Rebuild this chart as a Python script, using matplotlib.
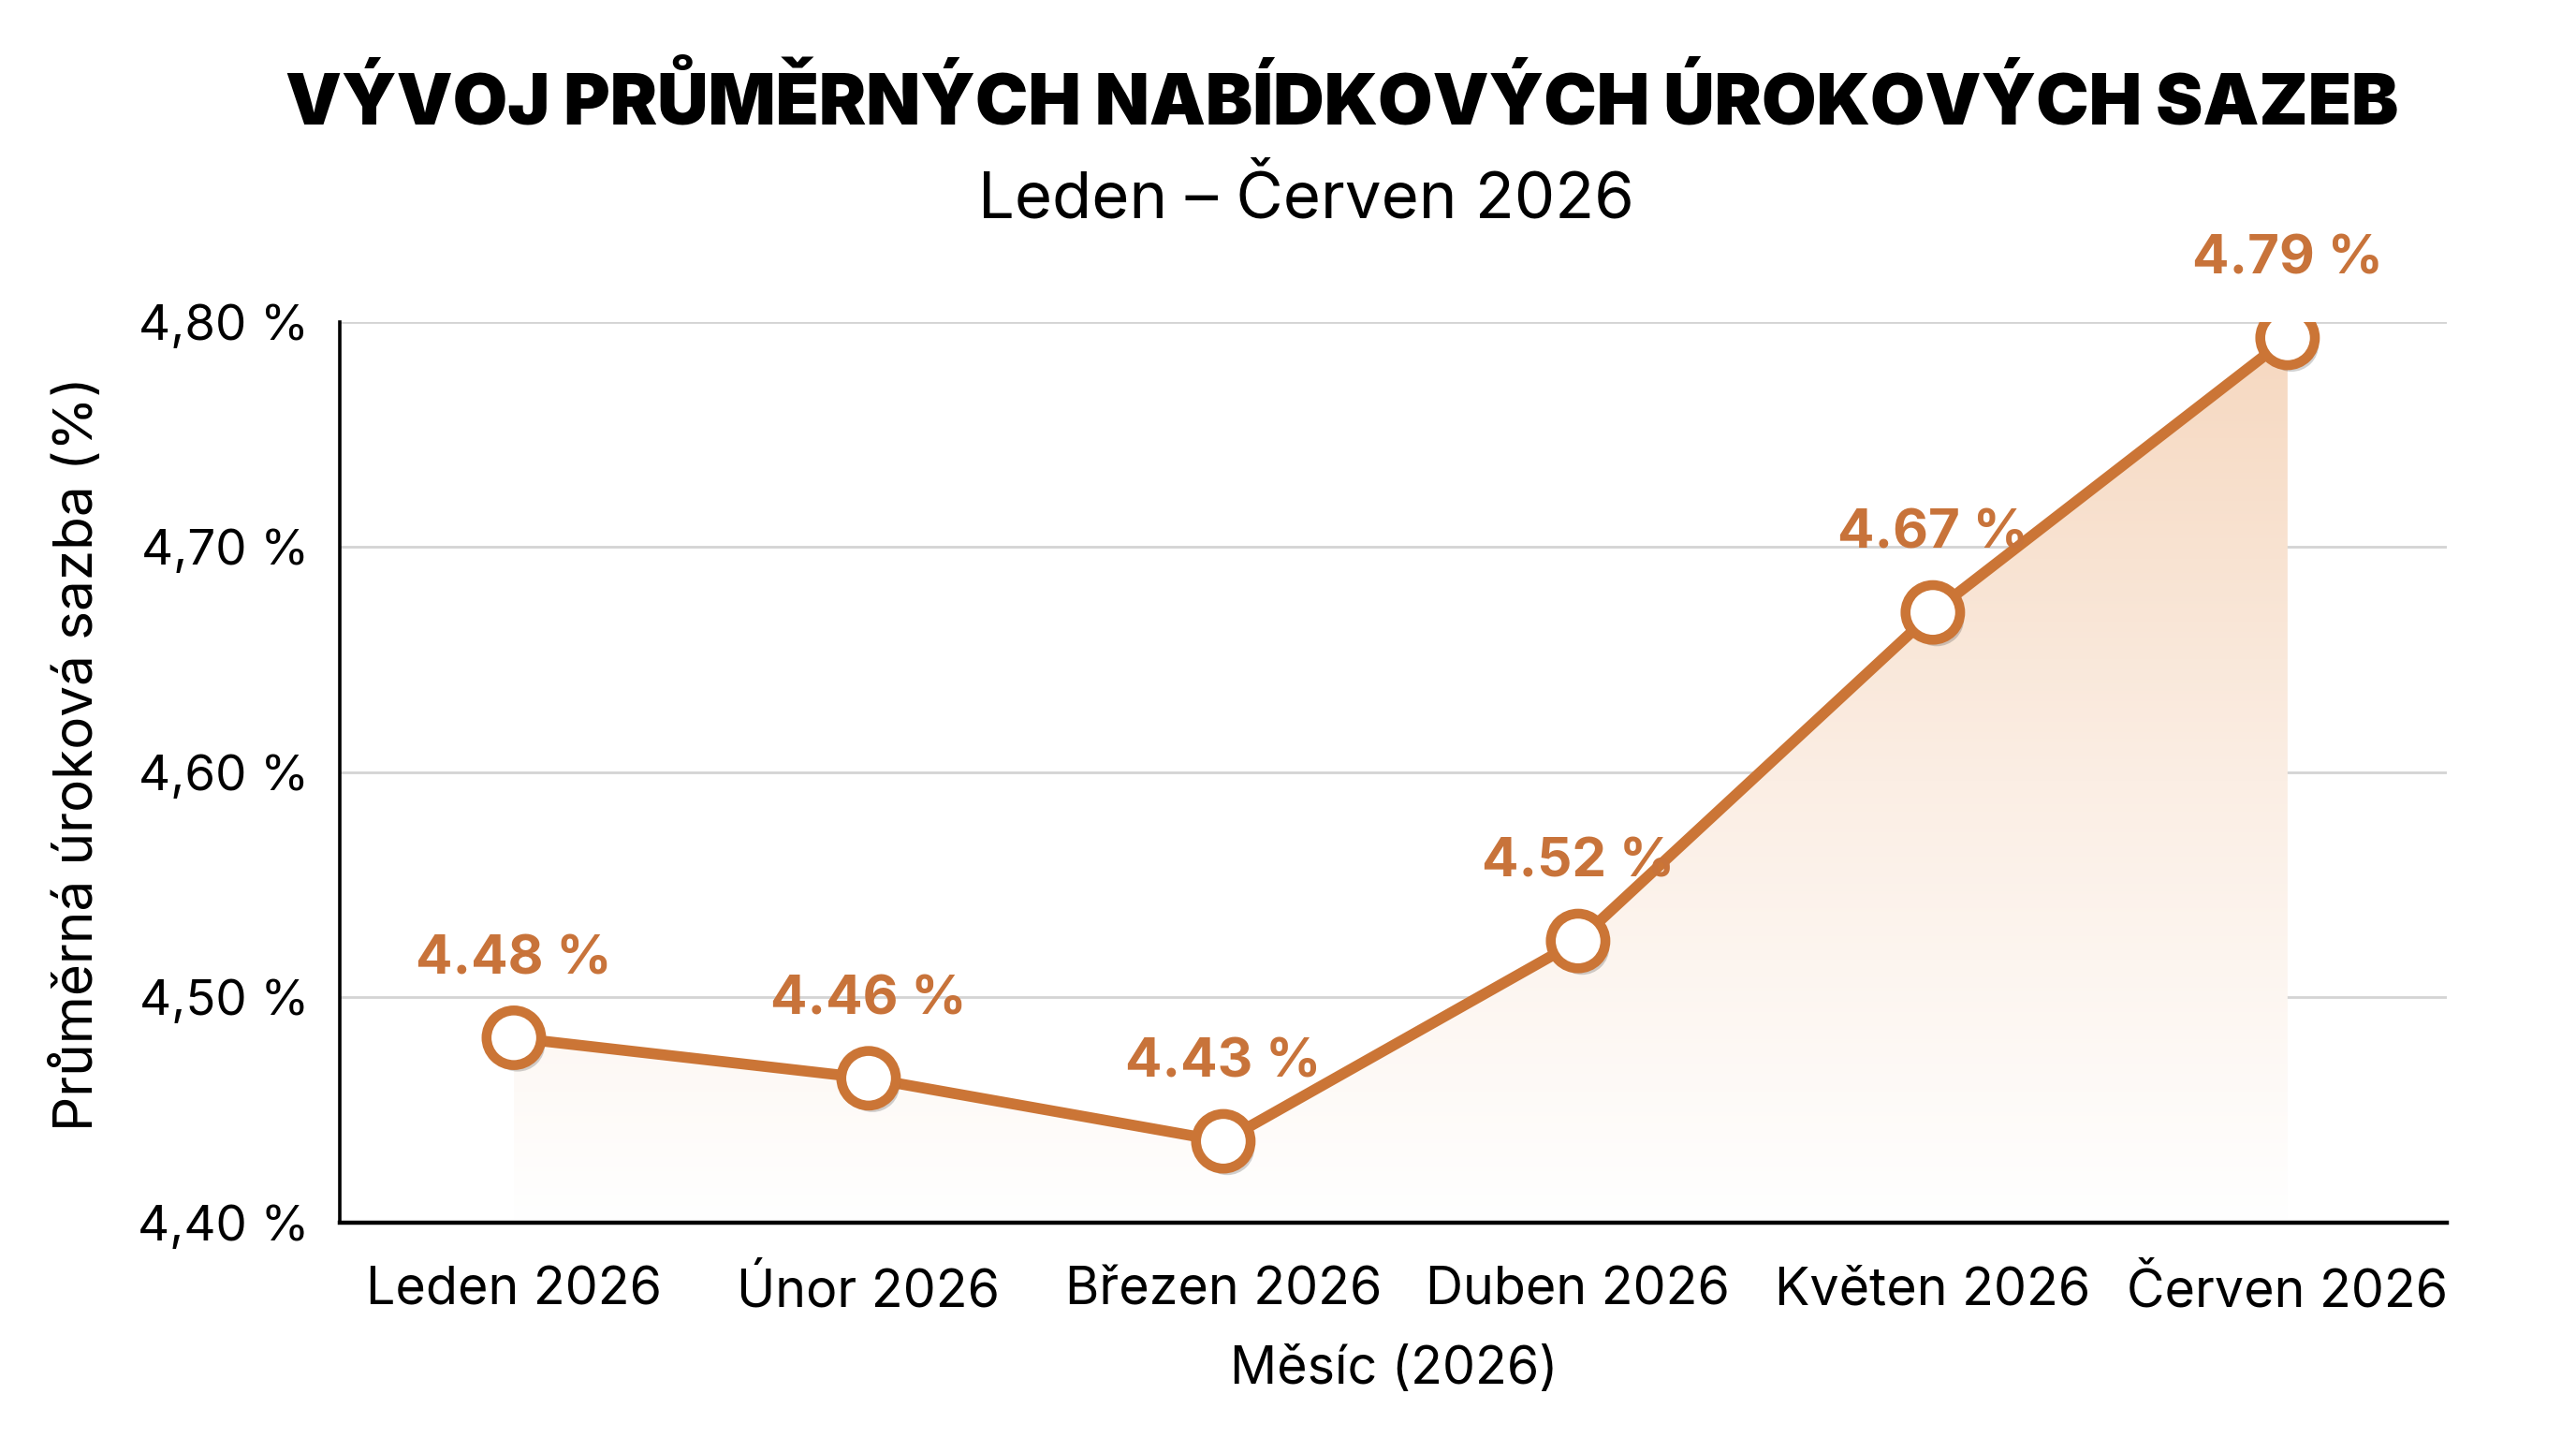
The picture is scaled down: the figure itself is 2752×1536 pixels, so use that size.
import matplotlib
matplotlib.use("Agg")
import matplotlib.pyplot as plt
import numpy as np
from matplotlib.path import Path
from matplotlib.patches import PathPatch
import matplotlib.patheffects as pe
from matplotlib.colors import LinearSegmentedColormap

months = ["Leden 2026", "Únor 2026", "Březen 2026", "Duben 2026", "Květen 2026", "Červen 2026"]
rates = [4.482, 4.464, 4.436, 4.525, 4.671, 4.793]
rate_labels = ["4.48 %", "4.46 %", "4.43 %", "4.52 %", "4.67 %", "4.79 %"]
yticks = [4.40, 4.50, 4.60, 4.70, 4.80]
ytick_labels = ["4,40 %", "4,50 %", "4,60 %", "4,70 %", "4,80 %"]

title = "VÝVOJ PRŮMĚRNÝCH NABÍDKOVÝCH ÚROKOVÝCH SAZEB"
subtitle = "Leden – Červen 2026"
xlabel = "Měsíc (2026)"
ylabel = "Průměrná úroková sazba (%)"

ORANGE = "#CB7536"
LABEL_ORANGE = "#C8733A"

plt.rcParams['font.family'] = ['Inter', 'DejaVu Sans']

fig = plt.figure(figsize=(13.76, 7.68), dpi=200)
fig.patch.set_facecolor("white")
ax = fig.add_axes([0.132, 0.150, 0.818, 0.626])

x = np.arange(len(months))
ax.set_xlim(-0.49, len(months) - 1 + 0.45)
ax.set_ylim(yticks[0], yticks[-1])

# gradient fill under the line
grad = np.linspace(0, 1, 256).reshape(-1, 1)
cmap = LinearSegmentedColormap.from_list("fade", ["#FFFFFF", "#FBEEE4", "#F6D8C0"])
ymax_data = max(rates)
im = ax.imshow(grad, extent=[x[0], x[-1], yticks[0], ymax_data], origin="lower",
               aspect="auto", cmap=cmap, zorder=1)
verts = [(x[0], yticks[0])] + list(zip(x, rates)) + [(x[-1], yticks[0]), (x[0], yticks[0])]
codes = [Path.MOVETO] + [Path.LINETO] * (len(verts) - 2) + [Path.CLOSEPOLY]
clip = PathPatch(Path(verts, codes), transform=ax.transData, facecolor="none", edgecolor="none")
ax.add_patch(clip)
im.set_clip_path(clip)

ax.plot(x, rates, color=ORANGE, lw=4.2, zorder=3, solid_capstyle="round")
ax.plot(x, rates, linestyle="none", marker="o", markersize=21, markerfacecolor="white",
        markeredgecolor=ORANGE, markeredgewidth=3.8, zorder=4,
        path_effects=[pe.SimplePatchShadow(offset=(1.5, -2.5), shadow_rgbFace="#000000", alpha=0.18),
                      pe.Normal()])

for xi, yi, lab in zip(x, rates, rate_labels):
    ax.annotate(lab, (xi, yi), xytext=(0, 30), textcoords="offset points",
                ha="center", va="center", fontsize=21, fontweight="bold",
                color=LABEL_ORANGE, zorder=5, annotation_clip=False)

ax.set_yticks(yticks)
ax.set_yticklabels(ytick_labels, fontsize=19)
ax.set_xticks(x)
ax.set_xticklabels(months, fontsize=20)
ax.tick_params(axis="both", length=0)
ax.tick_params(axis="y", pad=12)
ax.tick_params(axis="x", pad=17)

ax.grid(axis="y", color="#D4D4D4", lw=1.0, zorder=0)
ax.set_axisbelow(True)
for s in ["top", "right"]:
    ax.spines[s].set_visible(False)
ax.spines["left"].set_linewidth(1.3)
ax.spines["bottom"].set_linewidth(1.6)

ax.set_xlabel(xlabel, fontsize=20, labelpad=11)
ax.set_ylabel(ylabel, fontsize=21)
ax.yaxis.set_label_coords(-0.112, 0.52)

fig.text(0.521, 0.928, title, ha="center", va="center", fontsize=27.2, fontweight="black")
fig.text(0.507, 0.861, subtitle, ha="center", va="center", fontsize=24.8)

fig.savefig("out.png", dpi=200, facecolor="white")
